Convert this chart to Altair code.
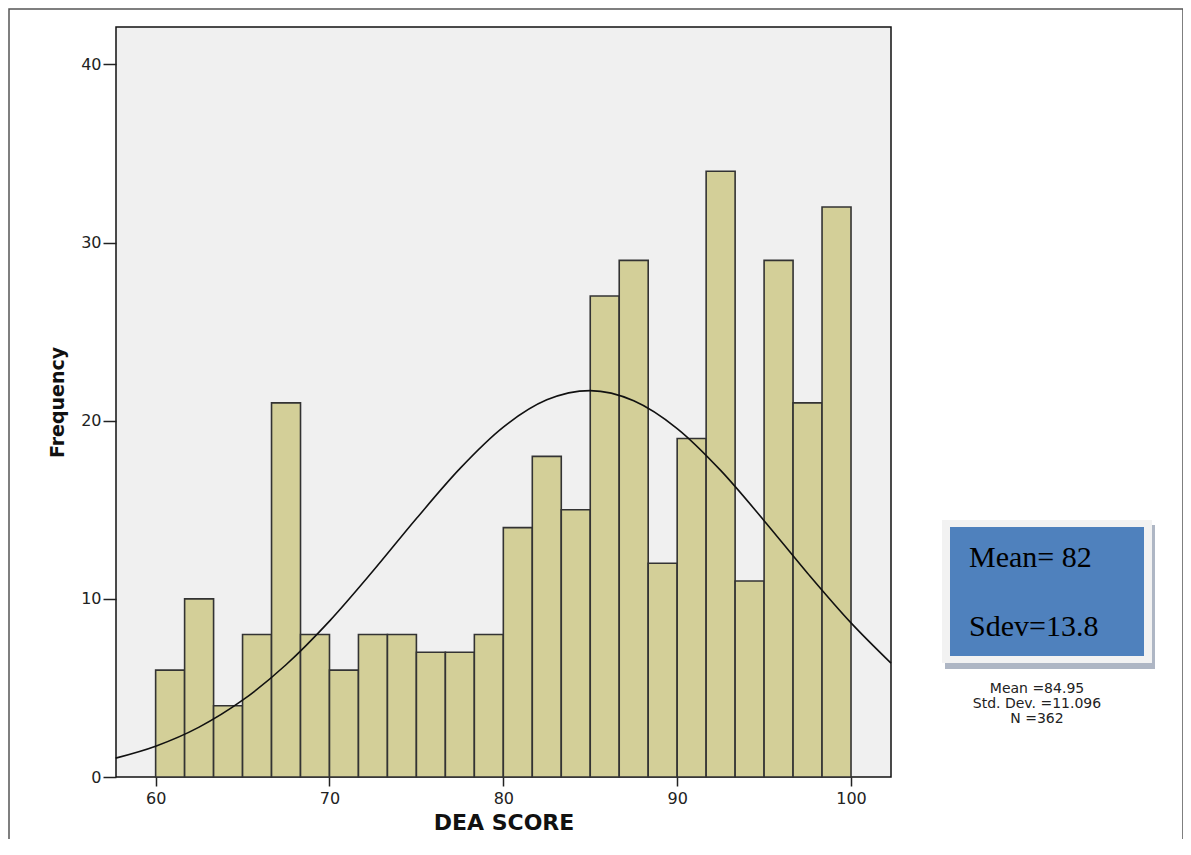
import altair as alt
import pandas as pd
import numpy as np

# Histogram of DEA scores (24 bins between 60 and 100)
counts = [6, 10, 4, 8, 21, 8, 6, 8, 8, 7, 7, 8, 14, 18, 15, 27, 29, 12, 19, 34, 11, 29, 21, 32]
bin_low, bin_high = 60.0, 100.0

# Fitted normal curve
curve_x = [57.7, 60, 62.5, 65, 67.5, 70, 72.5, 75, 77.5, 80, 82.5, 85,
           87.5, 90, 92.5, 95, 97.5, 100, 102.3]
curve_y = [1.06, 1.73, 2.80, 4.31, 6.30, 8.75, 11.56, 14.51, 17.31, 19.64, 21.17, 21.69,
           21.12, 19.56, 17.21, 14.39, 11.44, 8.65, 6.39]

x_ticks = [60, 70, 80, 90, 100]
y_ticks = [0, 10, 20, 30, 40]
x_title = "DEA SCORE"
y_title = "Frequency"
box_lines = ["Mean= 82", "Sdev=13.8"]
stats_lines = ["Mean =84.95", "Std. Dev. =11.096", "N =362"]

edges = np.linspace(bin_low, bin_high, len(counts) + 1)
hist = pd.DataFrame({"lo": edges[:-1], "hi": edges[1:], "count": counts})
curve = pd.DataFrame({"x": curve_x, "y": curve_y})
one = pd.DataFrame({"a": [0]})

xs = alt.Scale(domain=[57.72, 102.3], nice=False, zero=False)
ys = alt.Scale(domain=[0, 42.1], nice=False, zero=False)

x_axis = alt.Axis(values=x_ticks, title=x_title, tickSize=9, labelPadding=4,
                  titleFontSize=22, titlePadding=6, grid=False, domain=False)
y_axis = alt.Axis(values=y_ticks, title=y_title, tickSize=13, labelPadding=2,
                  titleFontSize=19, titlePadding=13, grid=False, domain=False)

bars = alt.Chart(hist).mark_rect(fill="#D3CF98", stroke="#333333", strokeWidth=1.6).encode(
    x=alt.X("lo:Q", scale=xs, axis=x_axis),
    x2="hi:Q",
    y=alt.Y("count:Q", scale=ys, axis=y_axis),
    y2=alt.datum(0),
)

line = alt.Chart(curve).mark_line(color="#111111", strokeWidth=1.6, interpolate="monotone").encode(
    x=alt.X("x:Q", scale=xs),
    y=alt.Y("y:Q", scale=ys),
)

frame = alt.Chart(one).mark_rect(fill="white", fillOpacity=0, stroke="#555555", strokeWidth=1.5).encode(
    x=alt.value(-107), x2=alt.value(1067), y=alt.value(-18), y2=alt.value(900)
)

shadow = alt.Chart(one).mark_rect(fill="#AEB6C4").encode(
    x=alt.value(829), x2=alt.value(1039), y=alt.value(498), y2=alt.value(642)
)
outer = alt.Chart(one).mark_rect(fill="#F2F2F2").encode(
    x=alt.value(826), x2=alt.value(1036), y=alt.value(493), y2=alt.value(636)
)
inner = alt.Chart(one).mark_rect(fill="#4F81BD").encode(
    x=alt.value(834), x2=alt.value(1028), y=alt.value(500), y2=alt.value(629)
)

box_text = [
    alt.Chart(one).mark_text(font="Liberation Serif", fontSize=30, align="left",
                             baseline="alphabetic", color="black").encode(
        x=alt.value(853), y=alt.value(yy), text=alt.value(t))
    for t, yy in zip(box_lines, [540, 609])
]

stats_text = [
    alt.Chart(one).mark_text(font="DejaVu Sans", fontSize=14, align="center",
                             baseline="middle", color="#222222").encode(
        x=alt.value(921), y=alt.value(yy), text=alt.value(t))
    for t, yy in zip(stats_lines, [662, 677, 692])
]

chart = alt.layer(frame, shadow, outer, inner, *box_text, *stats_text, bars, line).properties(
    width=775,
    height=750,
    autosize=alt.AutoSizeParams(type="none"),
    padding={"left": 108, "top": 19, "right": 292, "bottom": 62},
).configure(background="white").configure_view(
    fill="#F0F0F0", stroke="#111111", strokeWidth=1.5
).configure_axis(
    labelFont="DejaVu Sans", labelFontSize=16, labelColor="#222222",
    tickColor="#222222", tickWidth=1.5,
    titleFont="DejaVu Sans", titleFontWeight="bold", titleColor="#111111",
)

chart.save("out.html", embed_options={"renderer": "svg", "actions": False})
